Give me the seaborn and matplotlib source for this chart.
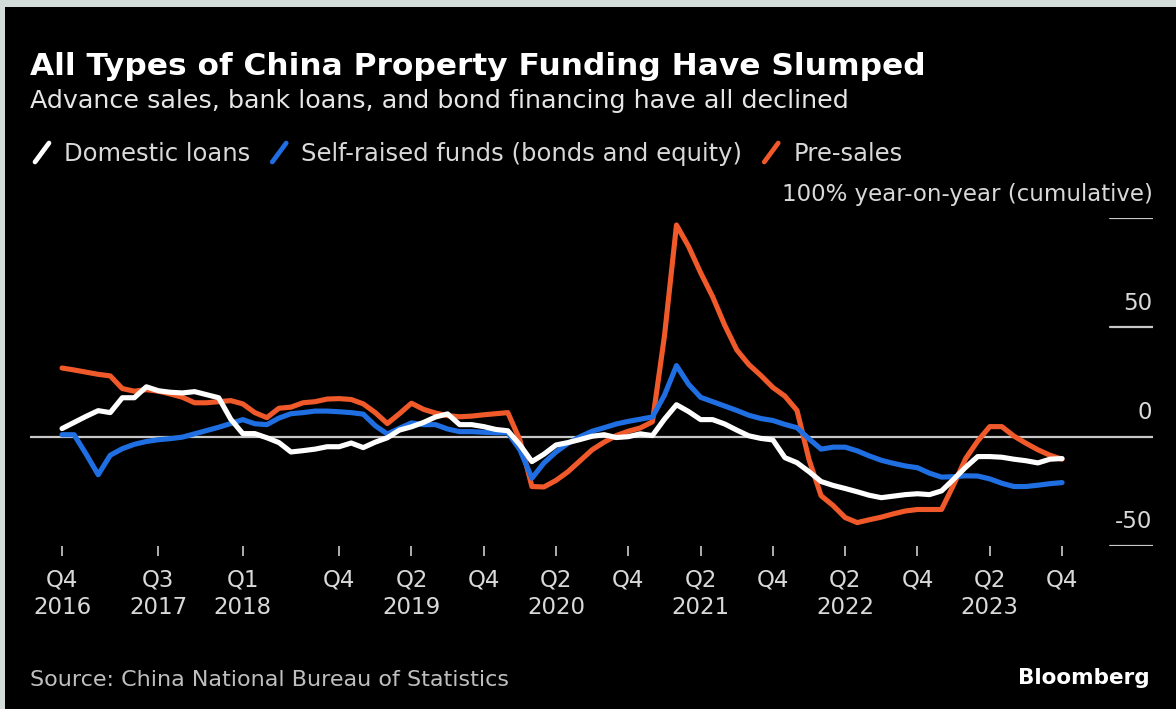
import numpy as np
import pandas as pd
import seaborn as sns
from matplotlib import pyplot as plt
from matplotlib.lines import Line2D
from matplotlib.patches import Rectangle
import matplotlib.transforms as mtransforms

# monthly cumulative yoy change, Jan 2017 .. Dec 2023
domestic_loans = [3.7, 6.5, 9.3, 11.9, 11.0, 17.8, 17.8, 22.8, 21.0, 20.3, 20.0, 20.6,
                  19.2, 17.8, 8.0, 1.4, 1.4, -0.5, -2.7, -7.0, -6.4, -5.7, -4.6, -4.6,
                  -2.9, -5.0, -2.5, -0.5, 3.0, 4.5, 6.5, 9.0, 10.4, 5.5, 5.5, 4.6,
                  3.3, 2.7, -3.7, -11.4, -8.0, -3.8, -2.7, -1.3, 0.2, 0.9, -0.4, 0.0,
                  1.3, 0.5, 8.0, 14.6, 11.5, 7.8, 7.8, 5.8, 3.0, 0.4, -0.8, -1.5,
                  -9.6, -11.9, -16.0, -20.5, -22.3, -23.7, -25.2, -26.8, -27.9, -27.2, -26.5, -26.1,
                  -26.5, -24.8, -19.5, -14.0, -9.1, -9.1, -9.4, -10.3, -11.0, -12.0, -10.3, -10.0]

self_raised = [0.9, 0.9, -8.0, -17.4, -8.5, -5.5, -3.5, -2.2, -1.4, -0.9, -0.2, 1.3,
               2.8, 4.3, 6.0, 7.8, 5.9, 5.5, 8.5, 10.5, 11.0, 11.7, 11.7, 11.4,
               11.0, 10.3, 5.0, 1.2, 3.8, 6.3, 5.5, 5.5, 3.5, 2.3, 2.3, 2.0,
               1.8, 1.8, -6.0, -19.0, -12.0, -7.0, -3.0, 0.0, 2.5, 4.1, 5.8, 7.0,
               8.0, 9.0, 19.0, 32.5, 24.0, 18.0, 16.0, 14.0, 12.0, 9.8, 8.3, 7.4,
               5.6, 4.1, -1.0, -5.7, -4.8, -4.8, -6.5, -8.8, -10.8, -12.2, -13.4, -14.2,
               -16.7, -18.5, -18.3, -17.9, -18.0, -19.3, -21.3, -22.8, -22.8, -22.2, -21.5, -21.0]

pre_sales = [31.4, 30.5, 29.5, 28.5, 27.8, 22.0, 20.8, 21.5, 20.8, 19.5, 18.0, 15.5,
             15.5, 16.0, 16.5, 15.0, 11.0, 8.7, 13.0, 13.5, 15.5, 16.0, 17.2, 17.4,
             17.0, 15.0, 11.0, 6.0, 10.5, 15.3, 12.5, 10.8, 9.6, 9.1, 9.4, 10.0,
             10.5, 11.0, -1.5, -22.8, -23.0, -20.0, -16.0, -11.0, -6.0, -2.5, 0.5, 2.5,
             4.0, 6.8, 46.0, 96.8, 87.0, 75.0, 64.0, 51.0, 39.7, 33.0, 28.0, 22.5,
             18.5, 12.0, -10.5, -27.0, -31.5, -37.0, -39.3, -38.0, -36.8, -35.3, -34.0, -33.3,
             -33.3, -33.3, -22.0, -10.0, -2.0, 4.6, 4.6, 0.3, -3.0, -6.0, -8.5, -10.3]

tick_pos = [0, 8, 15, 23, 29, 35, 41, 47, 53, 59, 65, 71, 77, 83]
tick_labels = ["Q4\n2016", "Q3\n2017", "Q1\n2018", "Q4", "Q2\n2019", "Q4", "Q2\n2020",
               "Q4", "Q2\n2021", "Q4", "Q2\n2022", "Q4", "Q2\n2023", "Q4"]
y_levels = [100, 50, 0, -50]
y_labels = ["100% year-on-year (cumulative)", "50", "0", "-50"]

series = ["Domestic loans", "Self-raised funds (bonds and equity)", "Pre-sales"]
colors = ["#ffffff", "#1f6fe3", "#f0592a"]

df = pd.DataFrame({"month": np.arange(len(pre_sales)),
                   series[0]: domestic_loans,
                   series[1]: self_raised,
                   series[2]: pre_sales})

sns.set_style("dark")
plt.rcParams['font.family'] = ['DejaVu Sans']

W, H = 1176, 709
fig = plt.figure(figsize=(W / 100, H / 100), dpi=100, facecolor="#d3dcd9")
fig.patches.append(Rectangle((5 / W, 0), 1, 1 - 7 / H, transform=fig.transFigure,
                             facecolor="black", edgecolor="none", zorder=-10))

ax = fig.add_axes([30 / W, 1 - 546 / H, (1153 - 30) / W, (546 - 218) / H])
ax.set_zorder(2)
ax.set_facecolor("black")
for s in ax.spines.values():
    s.set_visible(False)
ax.grid(False)

# zero line and short gridlines at right
ax.axhline(0, color="#c8c8c8", lw=1.6, zorder=1)
for v in [100, 50, -50]:
    ax.axhline(v, xmin=0.962, xmax=1, color="#c8c8c8", lw=1.6, zorder=1)

# draw in reverse so white sits on top
for name, c in reversed(list(zip(series, colors))):
    sns.lineplot(data=df, x="month", y=name, color=c, lw=3.7, ax=ax, zorder=3)

ax.set_xlim(-2.66, 90.55)
ax.set_ylim(-50, 100)
ax.set_xlabel("")
ax.set_ylabel("")
ax.set_yticks([])
ax.set_xticks(tick_pos)
ax.set_xticklabels(tick_labels, color="#d9d9d9", fontsize=16.5, linespacing=1.25)
ax.tick_params(axis="x", bottom=True, direction="out", length=7.5, width=1.3,
               color="#bdbdbd", pad=9)

trans = mtransforms.blended_transform_factory(ax.transAxes, ax.transData)
for v, lab in zip(y_levels, y_labels):
    ax.annotate(lab, xy=(0.9995, v), xycoords=trans, xytext=(0, 9),
                textcoords="offset points", ha="right", va="bottom",
                color="#d9d9d9", fontsize=16.5, annotation_clip=False)

# titles
fig.text(30 / W, 1 - 75 / H, "All Types of China Property Funding Have Slumped",
         color="white", fontsize=22.5, fontweight="bold", va="baseline")
fig.text(30 / W, 1 - 108 / H, "Advance sales, bank loans, and bond financing have all declined",
         color="#e6e6e6", fontsize=18.3, va="baseline")

# legend with slanted strokes
x = 35
for name, c in zip(series, colors):
    fig.add_artist(Line2D([x / W, (x + 14) / W], [1 - 162 / H, 1 - 143 / H],
                          color=c, lw=3.4, solid_capstyle="round", transform=fig.transFigure))
    t = fig.text((x + 29) / W, 1 - 161 / H, name, color="#d9d9d9", fontsize=17.5, va="baseline")
    fig.canvas.draw()
    bb = t.get_window_extent()
    x = bb.x1 + 22

fig.text(30 / W, 1 - 686 / H, "Source: China National Bureau of Statistics",
         color="#bfbfbf", fontsize=16, va="baseline")
fig.text(1150 / W, 1 - 684 / H, "Bloomberg", color="white", fontsize=15.5,
         fontweight="bold", ha="right", va="baseline")

fig.savefig("out.png", dpi=100, facecolor=fig.get_facecolor())
